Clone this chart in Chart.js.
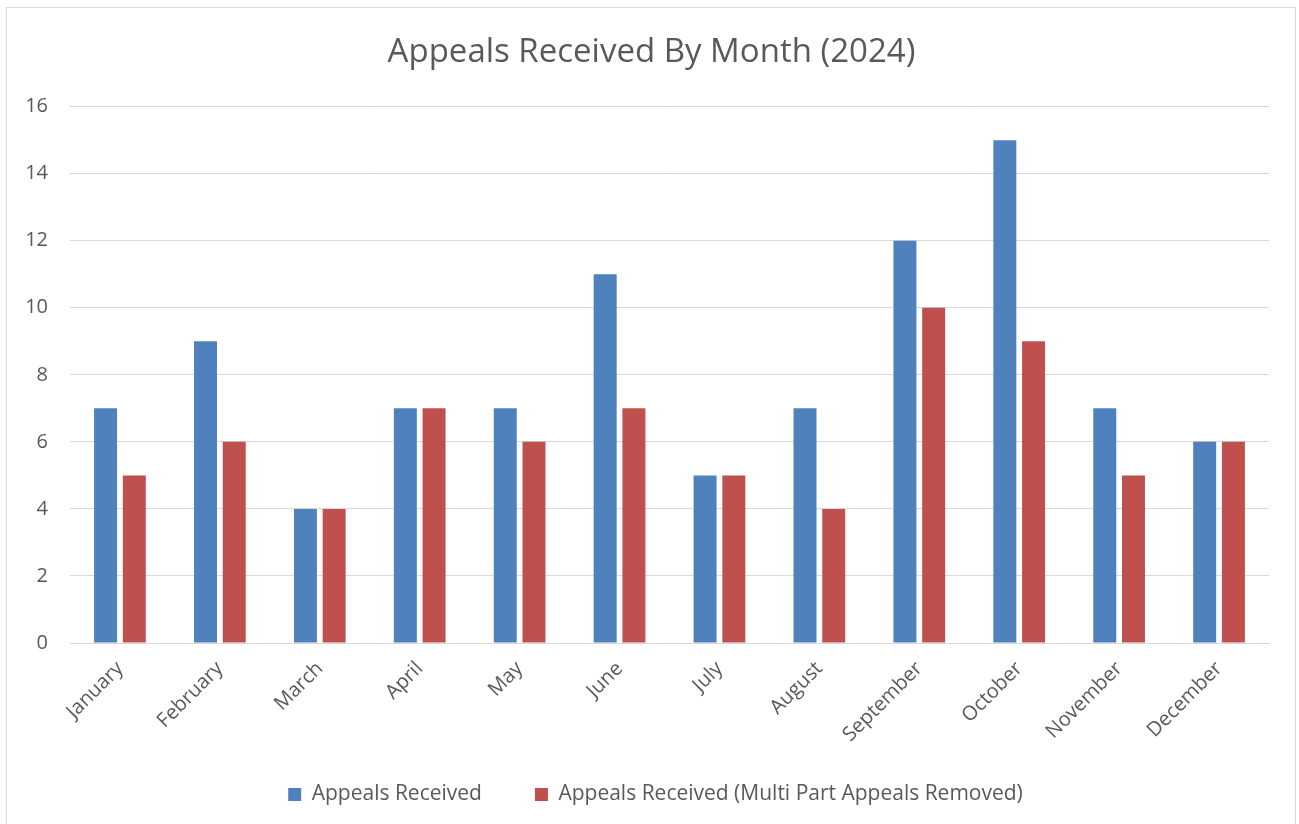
<!DOCTYPE html>
<html>
<head>
<meta charset="utf-8">
<script src="https://cdn.jsdelivr.net/npm/chart.js@4"></script>
<style>
  html, body { margin: 0; padding: 0; background: #fff; }
  #wrap { position: relative; width: 1299px; height: 824px; }
  #frame { position: absolute; left: 6px; top: 7px; width: 1290px; height: 820px; border: 1px solid #d9d9d9; box-sizing: border-box; pointer-events: none; }
</style>
</head>
<body>
<div id="wrap">
  <canvas id="chart" width="1299" height="824"></canvas>
  <div id="frame"></div>
</div>
<script>
// valores
const meses = ['January', 'February', 'March', 'April', 'May', 'June', 'July', 'August', 'September', 'October', 'November', 'December'];
const recebidos = [7, 9, 4, 7, 7, 11, 5, 7, 12, 15, 7, 6];
const semMultiParte = [5, 6, 4, 7, 6, 7, 5, 4, 10, 9, 5, 6];

const FONTE = "'Open Sans', sans-serif";
const CINZA = '#595959';

// título e legenda centrados na largura toda, como no original
const centraliza = {
  id: 'centraliza',
  afterLayout(chart) {
    chart.legend.left += 21;
    chart.legend.right += 21;
    chart.titleBlock.left += 17;
    chart.titleBlock.right += 17;
  }
};

new Chart(document.getElementById('chart'), {
  type: 'bar',
  data: {
    labels: meses,
    datasets: [
      { label: 'Appeals Received', data: recebidos, backgroundColor: '#4F81BD' },
      { label: 'Appeals Received (Multi Part Appeals Removed)', data: semMultiParte, backgroundColor: '#C0504D' }
    ]
  },
  plugins: [centraliza],
  options: {
    responsive: false,
    animation: false,
    datasets: { bar: { categoryPercentage: 0.575, barPercentage: 0.8 } },
    layout: { padding: { left: 0, right: 30, top: 0, bottom: 9 } },
    plugins: {
      title: {
        display: true,
        text: 'Appeals Received By Month (2024)',
        color: CINZA,
        font: { family: FONTE, size: 33, weight: 'normal' },
        padding: { top: 33, bottom: 34 }
      },
      legend: {
        position: 'bottom',
        labels: {
          color: CINZA,
          font: { family: FONTE, size: 21 },
          boxWidth: 13,
          boxHeight: 13,
          padding: 53
        }
      },
      tooltip: { enabled: false }
    },
    scales: {
      x: {
        grid: { display: false },
        border: { color: '#d9d9d9', width: 1 },
        ticks: {
          color: CINZA,
          font: { family: FONTE, size: 20 },
          minRotation: 45,
          maxRotation: 45,
          padding: 6
        },
        afterFit: s => {
          s.height = 88;
          // sem recorte dos rótulos na altura fixa
          s._computeLabelArea = () => undefined;
        }
      },
      y: {
        min: 0,
        max: 16,
        ticks: { stepSize: 2, color: CINZA, font: { family: FONTE, size: 20 }, padding: 22 },
        grid: { color: '#d9d9d9', drawTicks: false },
        border: { display: false },
        afterFit: s => { s.width = 70; }
      }
    }
  }
});
</script>
</body>
</html>
